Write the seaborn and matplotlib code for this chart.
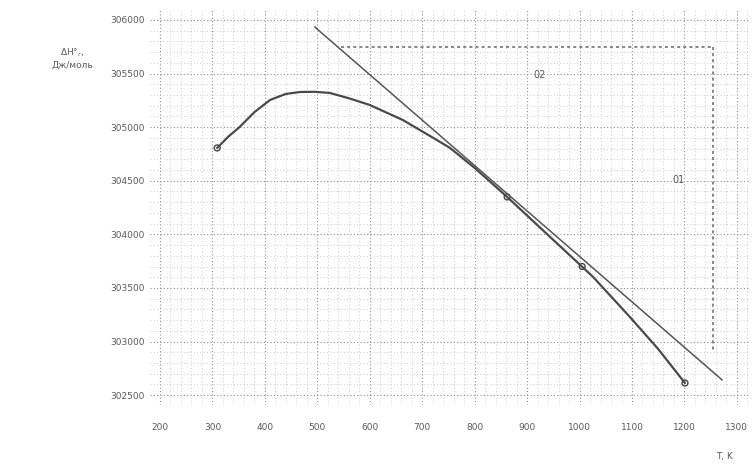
import numpy as np
import pandas as pd
import matplotlib
matplotlib.use("Agg")
import matplotlib.pyplot as plt
from matplotlib.ticker import MultipleLocator
import seaborn as sns

# ---- data ----
curve_T = [309, 330, 352, 380, 410, 440, 467, 495, 524, 560, 600, 663, 728, 753, 800, 862,
           944, 1026, 1096, 1150, 1201]
curve_H = [304806, 304910, 305002, 305140, 305254, 305310, 305328, 305330, 305319, 305270,
           305207, 305067, 304880, 304806, 304620, 304349, 303975, 303602, 303229, 302930,
           302613]
marker_T = [309, 862, 1005, 1201]
marker_H = [304806, 304349, 303700, 302613]
line_T = [495, 1272]
line_H = [305935, 302641]
box_top_T = [545, 1254]
box_top_H = [305745, 305745]
box_side_T = [1254, 1254]
box_side_H = [305745, 302900]
xticks = [200, 300, 400, 500, 600, 700, 800, 900, 1000, 1100, 1200, 1300]
yticks = [302500, 303000, 303500, 304000, 304500, 305000, 305500, 306000]
labels_text = ["02", "01"]
labels_T = [924, 1188]
labels_H = [305490, 304507]

sns.set_theme(style="white")
plt.rcParams['font.family'] = ['DejaVu Sans']

ink = "#5a5a5a"
fig = plt.figure(figsize=(7.56, 4.68), dpi=100)
ax = fig.add_axes([150/756, 1-405/468, 600/756, 395/468])

df_curve = pd.DataFrame({"T": curve_T, "H": curve_H})
df_line = pd.DataFrame({"T": line_T, "H": line_H})
sns.lineplot(data=df_curve, x="T", y="H", ax=ax, color="#4a4a4a", lw=1.6,
             sort=False, estimator=None)
sns.lineplot(data=df_line, x="T", y="H", ax=ax, color="#555555", lw=1.1,
             sort=False, estimator=None)
sns.lineplot(x=box_top_T, y=box_top_H, ax=ax, color="#666666", lw=1.1,
             linestyle=(0, (2, 2)), sort=False, estimator=None)
sns.lineplot(x=box_side_T, y=box_side_H, ax=ax, color="#666666", lw=1.1,
             linestyle=(0, (2, 2)), sort=False, estimator=None)
sns.scatterplot(x=marker_T, y=marker_H, ax=ax, s=18, facecolor="none",
                edgecolor="#444444", linewidth=1.0)

for t, x, y in zip(labels_text, labels_T, labels_H):
    ax.text(x, y, t, fontsize=7, color=ink, ha="center", va="center")

ax.set_xlim(181, 1325)
ax.set_ylim(302408, 306093)
ax.set_xticks(xticks)
ax.set_yticks(yticks)
ax.set_xticklabels([str(v) for v in xticks], fontsize=6.5, color=ink)
ax.set_yticklabels([str(v) for v in yticks], fontsize=6.5, color=ink)
ax.xaxis.set_minor_locator(MultipleLocator(20))
ax.yaxis.set_minor_locator(MultipleLocator(100))
ax.grid(which="major", color="#8f8f8f", lw=0.8, linestyle=(0, (1, 2)))
ax.grid(which="minor", color="#bcbcbc", lw=0.6, linestyle=(0, (1, 3)))
ax.tick_params(axis="x", which="both", length=0, pad=13)
ax.tick_params(axis="y", which="both", length=0, pad=4)
for s in ax.spines.values():
    s.set_visible(False)
ax.set_xlabel("")
ax.set_ylabel("")

fig.text(72/756, 1-58/468, "ΔH°$_r$,\nДж/моль", fontsize=6.5, color=ink,
         ha="center", va="center", linespacing=1.3)
fig.text(725/756, 1-456/468, "T, K", fontsize=6.5, color=ink, ha="center", va="center")

fig.savefig("out.png", dpi=100, facecolor="white")
